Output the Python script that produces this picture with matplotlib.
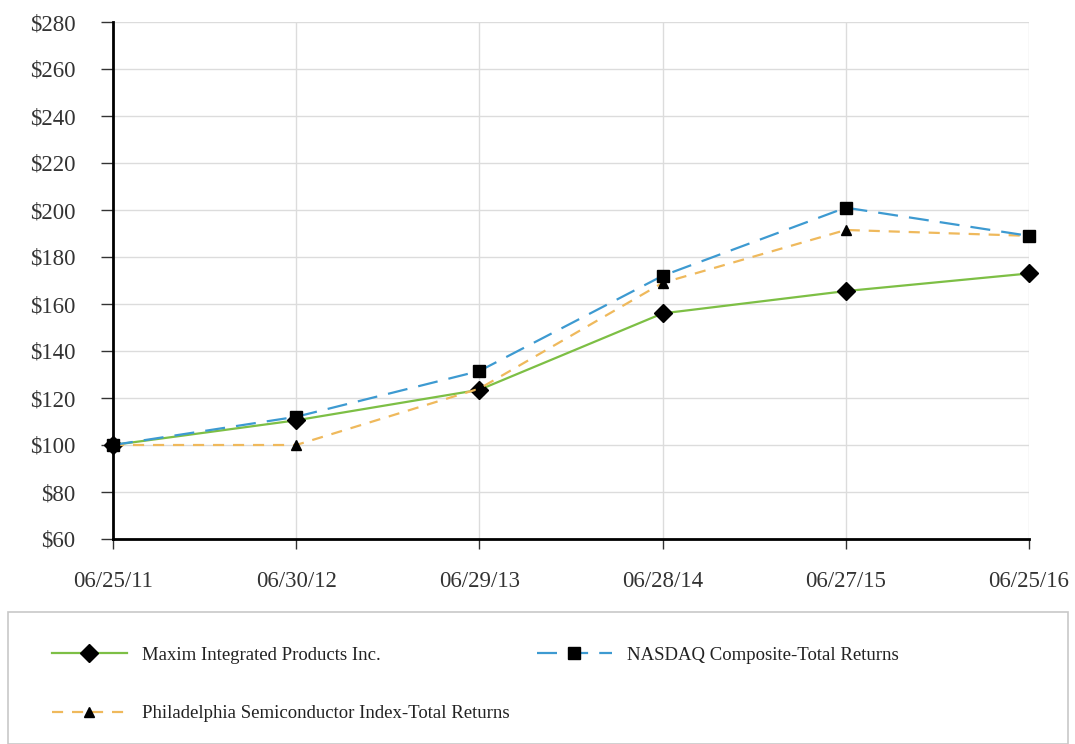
import matplotlib
matplotlib.use("Agg")
import matplotlib.pyplot as plt
from matplotlib.patches import Rectangle

dates = ["06/25/11", "06/30/12", "06/29/13", "06/28/14", "06/27/15", "06/25/16"]
maxim = [100, 110.5, 123.5, 156, 165.5, 173]
nasdaq = [100, 112, 131.5, 172, 201, 189]
sox = [100, 100, 124, 169, 191.5, 189]
yticks = list(range(60, 281, 20))

plt.rcParams['font.family'] = ['Liberation Serif', 'DejaVu Serif']

W, H = 1075, 744
fig = plt.figure(figsize=(W/100, H/100), dpi=100)
ax = fig.add_axes([113/W, 1-539/H, (1029-113)/W, (539-22)/H])

x = list(range(len(dates)))
l1, = ax.plot(x, maxim, color='#7dbf45', lw=1.6, marker='D', ms=9.5, mfc='black', mec='black',
              label='Maxim Integrated Products Inc.', zorder=3, clip_on=False)
l2, = ax.plot(x, nasdaq, color='#3d9ad1', lw=1.6, dashes=(9, 5), marker='s', ms=9, mfc='black', mec='black',
              label='NASDAQ Composite-Total Returns', zorder=4, clip_on=False)
l3, = ax.plot(x, sox, color='#efb95c', lw=1.6, dashes=(5, 4), marker='^', ms=7.5, mfc='black', mec='black',
              label='Philadelphia Semiconductor Index-Total Returns', zorder=3, clip_on=False)

ax.set_xlim(0, len(dates)-1)
ax.set_ylim(60, 280)
ax.set_xticks(x)
ax.set_xticklabels(dates, fontsize=16.5)
ax.set_yticks(yticks)
ax.set_yticklabels([f"${v}" for v in yticks], fontsize=16.5)
ax.grid(True, color='#dcdcdc', lw=1)
ax.set_axisbelow(True)
for s in ['top', 'right']:
    ax.spines[s].set_visible(False)
for s in ['left', 'bottom']:
    ax.spines[s].set_linewidth(2)
    ax.spines[s].set_color('black')
ax.tick_params(axis='y', length=9, width=1, direction='out', pad=18, colors='#333333')
ax.tick_params(axis='x', length=7, width=1, direction='out', pad=16, colors='#333333')
ax.tick_params(labelcolor='#333333')

fig.patches.append(Rectangle((8/W, 0), (1068-8)/W, (744-612)/H + 0.0, transform=fig.transFigure,
                             fill=False, ec='#c8c8c8', lw=1.2))
fig.legend([l1, l3, l2], [l1.get_label(), l3.get_label(), l2.get_label()],
           loc='upper left', bbox_to_anchor=(35/W, 1-630/H), ncol=2, frameon=False,
           fontsize=13.5, handlelength=4.0, handletextpad=0.8, columnspacing=1.45,
           labelspacing=2.2, labelcolor='#222222')

fig.savefig('out.png', dpi=100)
